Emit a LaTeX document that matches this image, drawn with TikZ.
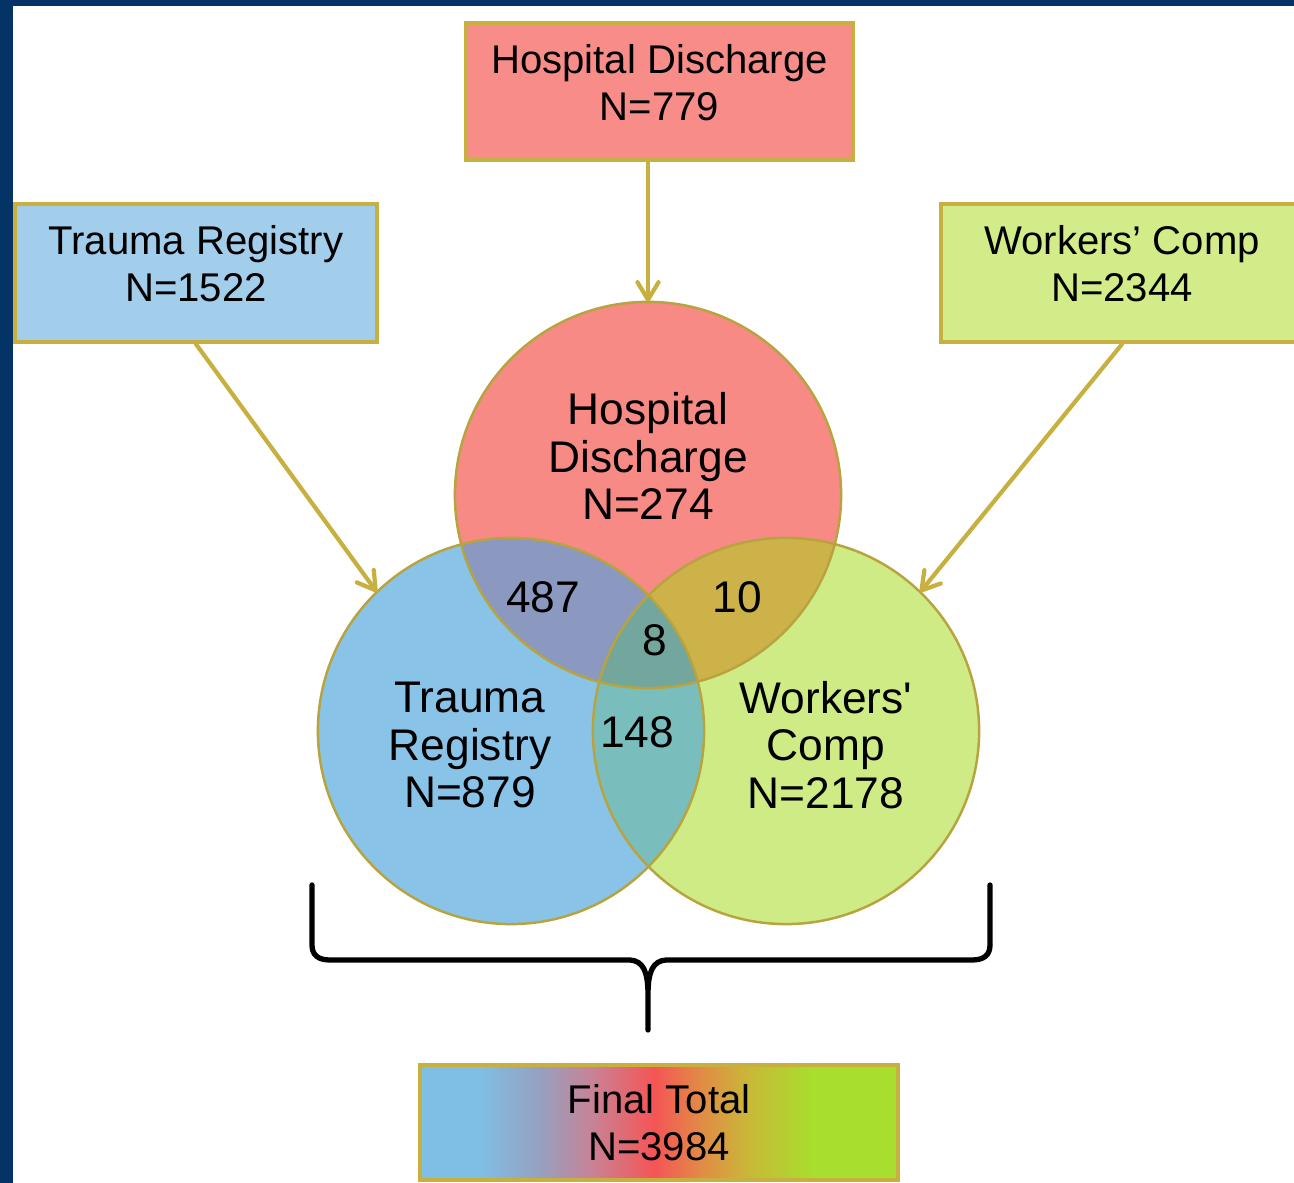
\documentclass[tikz,border=0pt]{standalone}
\usepackage{fontspec}
\setmainfont{Liberation Sans}
\usepackage{xcolor}
\usepackage{tikz}
\usetikzlibrary{positioning, arrows.meta}

\definecolor{navy}{RGB}{4,52,102}
\definecolor{gold}{RGB}{200,176,64}
\definecolor{ringgold}{RGB}{184,164,62}
\definecolor{hdbox}{RGB}{248,140,136}
\definecolor{trbox}{RGB}{162,206,236}
\definecolor{wcbox}{RGB}{210,236,138}
\definecolor{hdred}{RGB}{247,138,133}
\definecolor{trblue}{RGB}{137,195,232}
\definecolor{wcgreen}{RGB}{207,235,133}
\definecolor{hdtr}{RGB}{139,152,192}
\definecolor{hdwc}{RGB}{205,178,74}
\definecolor{trwc}{RGB}{121,190,188}
\definecolor{allthree}{RGB}{115,166,157}
\definecolor{gblue}{RGB}{127,191,230}
\definecolor{gpurple}{RGB}{150,160,192}
\definecolor{gpink}{RGB}{200,130,150}
\definecolor{gred}{RGB}{245,85,85}
\definecolor{gorange}{RGB}{225,140,70}
\definecolor{golive}{RGB}{200,185,55}
\definecolor{ggreen}{RGB}{168,222,45}

\pgfdeclarehorizontalshading{finalgrad}{100bp}{color(0bp)=(gblue); color(31bp)=(gblue);
  color(37.5bp)=(gpurple); color(43bp)=(gpink); color(49.5bp)=(gred); color(54.5bp)=(gorange);
  color(59.5bp)=(golive); color(66bp)=(ggreen); color(100bp)=(ggreen)}

\newcommand{\boxfont}{\fontsize{11.4}{13.4}\selectfont}
\newcommand{\vennfont}{\fontsize{12.6}{13.5}\selectfont}
\newcommand{\boxtext}[2]{\begin{tabular}{@{}c@{}}#1\\#2\\[2.3pt]\end{tabular}}

\begin{document}
\begin{tikzpicture}[x=0.01cm, y=-0.01cm, >={Straight Barb[length=5pt, width=6pt, round]},
    box/.style={draw=gold, line width=1.2pt, inner sep=0pt, font=\boxfont},
    venn/.style={circle, minimum size=3.86cm, inner sep=0pt, outer sep=0pt},
    ring/.style={draw=ringgold, line width=0.7pt},
    lbl/.style={font=\vennfont, align=center, inner sep=0pt},
    feed/.style={->, draw=gold, line width=1.2pt, line cap=round}]

        \useasboundingbox (0,0) rectangle (1294,1183);

        % Fond
        \fill [navy] (0,0) rectangle (1294,1183);
        \fill [white] (13,6) rectangle (1294,1183);

        % Boites des sources
        \node [box, fill=hdbox, minimum width=3.87cm, minimum height=1.37cm] (hdsrc) at (659.5,91.5) {\boxtext{Hospital Discharge}{N=779}};
        \node [box, fill=trbox, minimum width=3.62cm, minimum height=1.38cm] (trsrc) at (196,273) {\boxtext{Trauma Registry}{N=1522}};
        \node [box, fill=wcbox, minimum width=3.62cm, minimum height=1.38cm] (wcsrc) at (1122,273) {\boxtext{Workers’ Comp}{N=2344}};

        % Cercles
        \node [venn, fill=hdred] (hd) at (648,495) {};
        \node [venn, fill=trblue] (tr) at (511,731) {};
        \node [venn, fill=wcgreen] (wc) at (786,731) {};

        % Intersections
        \begin{scope}
            \clip (tr.center) circle (1.93cm);
            \fill [trwc] (wc.center) circle (1.93cm);
        \end{scope}
        \begin{scope}
            \clip (hd.center) circle (1.93cm);
            \fill [hdtr] (tr.center) circle (1.93cm);
            \fill [hdwc] (wc.center) circle (1.93cm);
            \clip (tr.center) circle (1.93cm);
            \fill [allthree] (wc.center) circle (1.93cm);
        \end{scope}
        \foreach \c in {hd,tr,wc}
            \draw [ring] (\c.center) circle (1.93cm);

        % Textes des cercles
        \node [lbl] (hdname) at (648,456) {Hospital\\Discharge\\N=274};
        \node [lbl] (trname) at (470,745) {Trauma\\Registry\\N=879};
        \node [lbl] (wcname) at (826,745) {Workers\textquotesingle\\Comp\\N=2178};
        \node [lbl] (hdtrn) at (543,597) {487};
        \node [lbl] (hdwcn) at (737,597) {10};
        \node [lbl] (alln) at (655,640) {8};
        \node [lbl] (trwcn) at (637,732) {148};

        % Fleches
        \draw [feed] (hdsrc.south -| hd.north) -- (hd.north);
        \draw [feed] (trsrc.south) -- (tr.134);
        \draw [feed] (wcsrc.south) -- (wc.46);

        % Accolade
        \draw [line width=1.5pt, line cap=round, line join=round]
            (312,885) -- (312,945) .. controls (312,955) and (318,960) .. (330,960)
            -- (630,960) .. controls (643,961) and (648,971) .. (648,995) -- (648,1030)
            (648,995) .. controls (648,971) and (653,961) .. (666,960)
            -- (972,960) .. controls (984,960) and (990,955) .. (990,945) -- (990,885);

        % Total final
        \node [box, shading=finalgrad, minimum width=4.78cm, minimum height=1.15cm, align=center] (total) at (659,1122.5) {Final Total\\N=3984};

\end{tikzpicture}
\end{document}
